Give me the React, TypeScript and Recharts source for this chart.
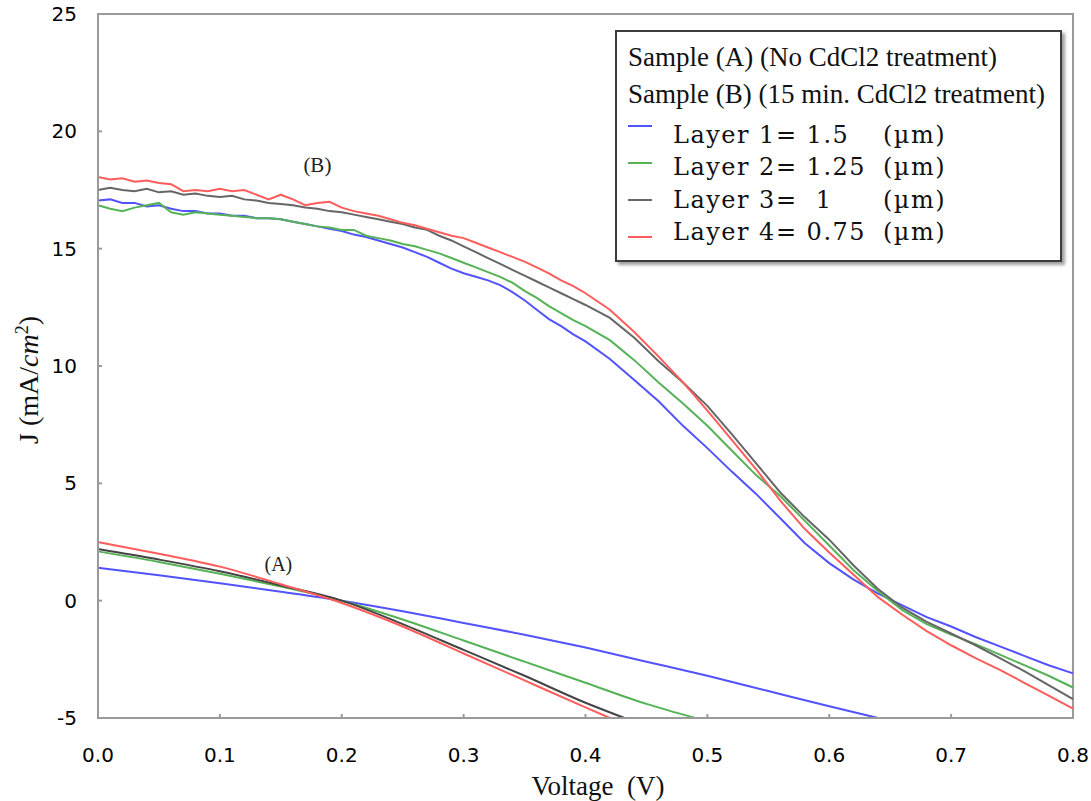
import React from 'react'
import { LineChart, Line, XAxis, YAxis, Legend, ReferenceArea, ReferenceDot, Label } from 'recharts'

// voltage grid of the treated sample (B): 10 mV steps up to 0.4 V, 20 mV afterwards
const voltsB = [
  0, 0.01, 0.02, 0.03, 0.04, 0.05, 0.06, 0.07, 0.08, 0.09,
  0.1, 0.11, 0.12, 0.13, 0.14, 0.15, 0.16, 0.17, 0.18, 0.19,
  0.2, 0.21, 0.22, 0.23, 0.24, 0.25, 0.26, 0.27, 0.28, 0.29,
  0.3, 0.31, 0.32, 0.33, 0.34, 0.35, 0.36, 0.37, 0.38, 0.39,
  0.4, 0.42, 0.44, 0.46, 0.48, 0.5, 0.52, 0.54, 0.56, 0.58,
  0.6, 0.62, 0.64, 0.66, 0.68, 0.7, 0.72, 0.74, 0.76, 0.78, 0.8,
]

const layer1B = [
  17.05, 17.1, 16.95, 16.95, 16.8, 16.85, 16.7, 16.6, 16.6, 16.5,
  16.5, 16.4, 16.4, 16.3, 16.3, 16.25, 16.15, 16.05, 15.95, 15.85,
  15.75, 15.6, 15.5, 15.35, 15.2, 15.05, 14.85, 14.65, 14.4, 14.15,
  13.95, 13.8, 13.65, 13.45, 13.15, 12.8, 12.4, 12.0, 11.7, 11.35,
  11.05, 10.3, 9.4, 8.5, 7.45, 6.5, 5.5, 4.55, 3.5, 2.45,
  1.6, 0.9, 0.3, -0.2, -0.7, -1.1, -1.55, -1.95, -2.35, -2.75, -3.1,
]
const layer2B = [
  16.85, 16.7, 16.6, 16.75, 16.85, 16.95, 16.55, 16.45, 16.55, 16.5,
  16.45, 16.4, 16.35, 16.3, 16.3, 16.25, 16.15, 16.05, 15.95, 15.9,
  15.8, 15.8, 15.55, 15.45, 15.35, 15.2, 15.1, 14.95, 14.8, 14.6,
  14.4, 14.2, 14.0, 13.8, 13.55, 13.2, 12.9, 12.55, 12.25, 11.95,
  11.7, 11.1, 10.25, 9.3, 8.4, 7.45, 6.4, 5.35, 4.45, 3.4,
  2.35, 1.3, 0.4, -0.4, -1.0, -1.45, -1.85, -2.3, -2.75, -3.2, -3.7,
]
const layer3B = [
  17.5, 17.6, 17.5, 17.45, 17.55, 17.4, 17.45, 17.3, 17.35, 17.25,
  17.2, 17.25, 17.1, 17.05, 16.95, 16.9, 16.85, 16.75, 16.7, 16.6,
  16.55, 16.45, 16.35, 16.25, 16.15, 16.05, 15.9, 15.8, 15.55, 15.35,
  15.1, 14.85, 14.6, 14.35, 14.1, 13.85, 13.6, 13.35, 13.1, 12.85,
  12.6, 12.05, 11.2, 10.2, 9.3, 8.3, 7.1, 5.85, 4.6, 3.55,
  2.6, 1.5, 0.5, -0.3, -0.9, -1.4, -1.9, -2.45, -3.0, -3.6, -4.2,
]
const layer4B = [
  18.05, 17.95, 18.0, 17.85, 17.9, 17.8, 17.75, 17.45, 17.5, 17.45,
  17.55, 17.45, 17.5, 17.3, 17.1, 17.3, 17.1, 16.85, 16.95, 17.0,
  16.75, 16.6, 16.5, 16.4, 16.25, 16.1, 16.0, 15.85, 15.7, 15.55,
  15.45, 15.25, 15.05, 14.85, 14.65, 14.45, 14.2, 13.95, 13.65, 13.4,
  13.1, 12.4, 11.45, 10.4, 9.3, 8.1, 6.85, 5.6, 4.25, 3.05,
  2.05, 1.1, 0.15, -0.6, -1.3, -1.9, -2.45, -2.95, -3.5, -4.05, -4.6,
]

// untreated sample (A), each curve stops where it leaves the plot at -5
const voltsA1 = [0, 0.05, 0.1, 0.15, 0.2, 0.25, 0.3, 0.35, 0.4, 0.45, 0.5, 0.55, 0.6, 0.64]
const layer1A = [1.4, 1.08, 0.74, 0.38, 0, -0.45, -0.95, -1.45, -2.0, -2.6, -3.2, -3.85, -4.5, -5]
const voltsA2 = [0, 0.05, 0.1, 0.15, 0.2, 0.25, 0.3, 0.35, 0.4, 0.45, 0.49]
const layer2A = [2.1, 1.65, 1.15, 0.6, 0, -0.8, -1.7, -2.6, -3.5, -4.4, -5]
const voltsA3 = [0, 0.05, 0.1, 0.15, 0.2, 0.25, 0.3, 0.35, 0.4, 0.432]
const layer3A = [2.2, 1.75, 1.25, 0.65, 0, -1.0, -2.1, -3.2, -4.35, -5]
const voltsA4 = [0, 0.05, 0.1, 0.15, 0.2, 0.25, 0.3, 0.35, 0.4, 0.42]
const layer4A = [2.5, 2.0, 1.45, 0.7, -0.1, -1.1, -2.25, -3.4, -4.55, -5]

const layerNames = ['Layer 1= 1.5', 'Layer 2= 1.25', 'Layer 3=  1', 'Layer 4= 0.75']
const layerColors = ['#5252ff', '#56b256', '#666666', '#ff5c5c']
const sampleNotes = ['Sample (A) (No CdCl2 treatment)', 'Sample (B) (15 min. CdCl2 treatment)']

const xTicks = [0, 0.1, 0.2, 0.3, 0.4, 0.5, 0.6, 0.7, 0.8]
const yTicks = [-5, 0, 5, 10, 15, 20, 25]

const serif = '"Liberation Serif", "Times New Roman", serif'
const sans = '"DejaVu Sans", Verdana, sans-serif'
const axisGray = '#9a9a9a'

const toPoints = (vs: number[], js: number[]) => vs.map((v, i) => ({ v, j: js[i] }))

const renderLegend = () => (
  <div
    style={{
      position: 'relative',
      width: 447,
      height: 232,
      boxSizing: 'border-box',
      border: '2px solid #3c3c3c',
      boxShadow: '3px 3px 3px #a0a0a0',
      background: '#fff',
      color: '#111',
    }}
  >
    {sampleNotes.map((t, i) => (
      <div
        key={t}
        style={{ position: 'absolute', left: 11, top: 10 + i * 37, fontFamily: serif, fontSize: 27, lineHeight: '30px', whiteSpace: 'pre' }}
      >
        {t}
      </div>
    ))}
    {layerNames.map((n, i) => (
      <React.Fragment key={n}>
        <div style={{ position: 'absolute', left: 11, top: 93 + i * 37, width: 24, height: 2, background: layerColors[i] }} />
        <div
          style={{
            position: 'absolute', left: 56, top: 89 + i * 32.3, fontFamily: '"DejaVu Serif", serif',
            fontSize: 24, lineHeight: '28px', letterSpacing: 1.5, whiteSpace: 'pre',
          }}
        >
          {n}
        </div>
        <div
          style={{
            position: 'absolute', left: 266, top: 89 + i * 32.3, fontFamily: '"DejaVu Serif", serif',
            fontSize: 24, lineHeight: '28px', letterSpacing: 1.5, whiteSpace: 'pre',
          }}
        >
          (µm)
        </div>
      </React.Fragment>
    ))}
  </div>
)

const XTitle = () => (
  <text x={598} y={795} textAnchor="middle" fontFamily={serif} fontSize={27} fill="#111">
    {'Voltage\u00a0 (V)'}
  </text>
)

const YTitle = () => (
  <text transform="translate(38 380) rotate(-90)" textAnchor="middle" fontFamily={serif} fontSize={28} fill="#111">
    J (mA/<tspan fontStyle="italic">cm</tspan>
    <tspan dy={-10} fontSize={18}>2</tspan>
    <tspan dy={10}>)</tspan>
  </text>
)

export default function App() {
  const dataB = voltsB.map((v, i) => ({ v, l1: layer1B[i], l2: layer2B[i], l3: layer3B[i], l4: layer4B[i] }))
  const seriesA = [
    toPoints(voltsA1, layer1A),
    toPoints(voltsA2, layer2A),
    toPoints(voltsA3, layer3A),
    toPoints(voltsA4, layer4A),
  ]
  const keysB = ['l1', 'l2', 'l3', 'l4']

  return (
    <div style={{ position: 'absolute', left: 0, top: 0, width: 1091, height: 801, background: '#fff' }}>
      <LineChart width={1091} height={801} data={dataB} margin={{ top: 14, right: 18, bottom: 0, left: 38 }}>
        <ReferenceArea x1={0} x2={0.8} y1={-5} y2={25} fill="none" stroke={axisGray} strokeWidth={2} />
        <XAxis
          dataKey="v"
          type="number"
          domain={[0, 0.8]}
          ticks={xTicks}
          tickFormatter={(v: number) => v.toFixed(1)}
          height={83}
          tickSize={-4}
          tickMargin={34}
          stroke={axisGray}
          strokeWidth={2}
          tick={{ fill: '#000', fontSize: 20, fontFamily: sans }}
        >
          <Label content={XTitle} />
        </XAxis>
        <YAxis
          type="number"
          domain={[-5, 25]}
          ticks={yTicks}
          width={60}
          tickSize={-4}
          tickMargin={25}
          stroke={axisGray}
          strokeWidth={2}
          tick={{ fill: '#000', fontSize: 20, fontFamily: sans }}
        >
          <Label content={YTitle} />
        </YAxis>
        {seriesA.map((pts, i) => (
          <Line
            key={'a' + i}
            data={pts}
            dataKey="j"
            type="monotone"
            stroke={i === 2 ? '#444444' : layerColors[i]}
            strokeWidth={2}
            dot={false}
            legendType="none"
            isAnimationActive={false}
          />
        ))}
        {keysB.map((k, i) => (
          <Line
            key={k}
            dataKey={k}
            name={layerNames[i]}
            type="linear"
            stroke={layerColors[i]}
            strokeWidth={2}
            dot={false}
            isAnimationActive={false}
          />
        ))}
        <ReferenceDot
          x={0.18}
          y={18.6}
          r={0}
          fill="none"
          stroke="none"
          label={{ value: '(B)', position: 'center', fontFamily: serif, fontSize: 21, fill: '#222' }}
        />
        <ReferenceDot
          x={0.148}
          y={1.55}
          r={0}
          fill="none"
          stroke="none"
          label={{ value: '(A)', position: 'center', fontFamily: serif, fontSize: 20, fill: '#222' }}
        />
        <Legend
          layout="horizontal"
          verticalAlign="middle"
          align="center"
          wrapperStyle={{ left: 615, top: 30, width: 447, height: 232 }}
          content={renderLegend}
        />
      </LineChart>
    </div>
  )
}
